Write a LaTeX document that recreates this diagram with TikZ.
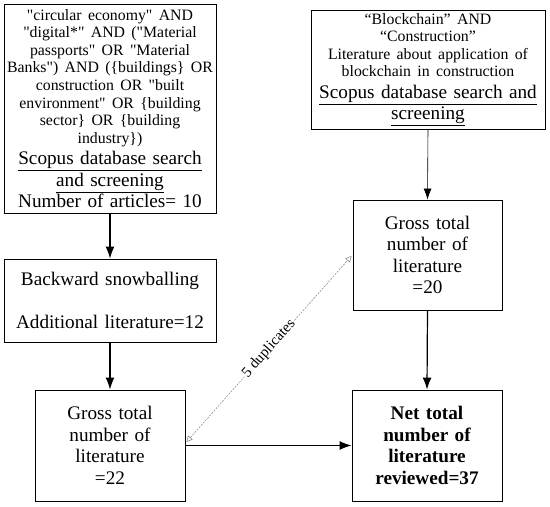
\documentclass[tikz,border=0pt]{standalone}
\usepackage{fontspec}
\setmainfont{Liberation Serif}
\usetikzlibrary{arrows.meta}
\newcommand{\smallq}{\fontsize{15.8}{17.6}\selectfont}
\newcommand{\bigq}{\fontsize{19.2}{21.5}\selectfont}
\newcommand{\q}{\textquotedbl}
\begin{document}
\begin{tikzpicture}[x=1pt,y=-1pt,
  box/.style={draw,line width=0.9pt,align=center,inner sep=0pt,font=\bigq},
  flow/.style={-{Latex[length=12pt,width=9pt]},line width=1.2pt},
  thinflow/.style={-{Latex[length=11pt,width=8pt]},line width=0.6pt},
  dup/.style={{Triangle[open,length=6pt,width=6pt]}-{Triangle[open,length=6pt,width=6pt]},
    gray,dash pattern=on 2pt off 1.2pt,line width=0.5pt},
  duplabel/.style={midway,sloped,fill=white,inner sep=1pt,text=black,font=\fontsize{15}{16}\selectfont}
]
\useasboundingbox (0,0) rectangle (550,507);

\node[box,minimum width=212pt,minimum height=209pt,text width=208pt] (b1) at (110,108.5)
 {{\smallq \q circular economy\q{} AND\\
  \q digital*\q{} AND (\q Material\\
  passports\q{} OR \q Material\\
  Banks\q) AND (\{buildings\} OR\\
  construction OR \q built\\
  environment\q{} OR \{building\\
  sector\} OR \{building\\
  industry\})\par}
  {\bigq \underline{Scopus database search}\\
  \underline{and screening}\\
  Number of articles= 10\par}};

\node[box,minimum width=212pt,minimum height=83pt,text width=208pt] (b2) at (110,300.5)
 {Backward snowballing\\[21pt]Additional literature=12};

\node[box,minimum width=150pt,minimum height=111pt,text width=146pt] (b3) at (110,445.5)
 {Gross total\\number of\\literature\\=22};

\node[box,minimum width=234pt,minimum height=119pt,text width=230pt] (b4) at (428,69.5)
 {{\smallq “Blockchain” AND\\
  “Construction”\\
  Literature about application of\\
  blockchain in construction\par}
  {\bigq \underline{Scopus database search and}\\
  \underline{screening}\par}};

\node[box,minimum width=149pt,minimum height=110pt,text width=145pt] (b5) at (427.5,255)
 {Gross total\\number of\\literature\\=20};

\node[box,minimum width=150pt,minimum height=111pt,text width=146pt,font=\bigq\bfseries] (b6) at (427,445.5)
 {Net total\\number of\\literature\\reviewed=37};

\draw[flow] (b1.south) -- (b2.north);
\draw[flow] (b2.south) -- (b3.north);
\draw[thinflow] (b4.south) -- (b5.north);
\draw[flow] (b5.south) -- (b6.north);
\draw[flow] (b3.east) -- (b6.west);
\draw[dup] ([yshift=3.5pt,xshift=1pt]b3.east) -- ([yshift=-1pt,xshift=-1pt]b5.west)
  node[duplabel] {5 duplicates};
\end{tikzpicture}
\end{document}
